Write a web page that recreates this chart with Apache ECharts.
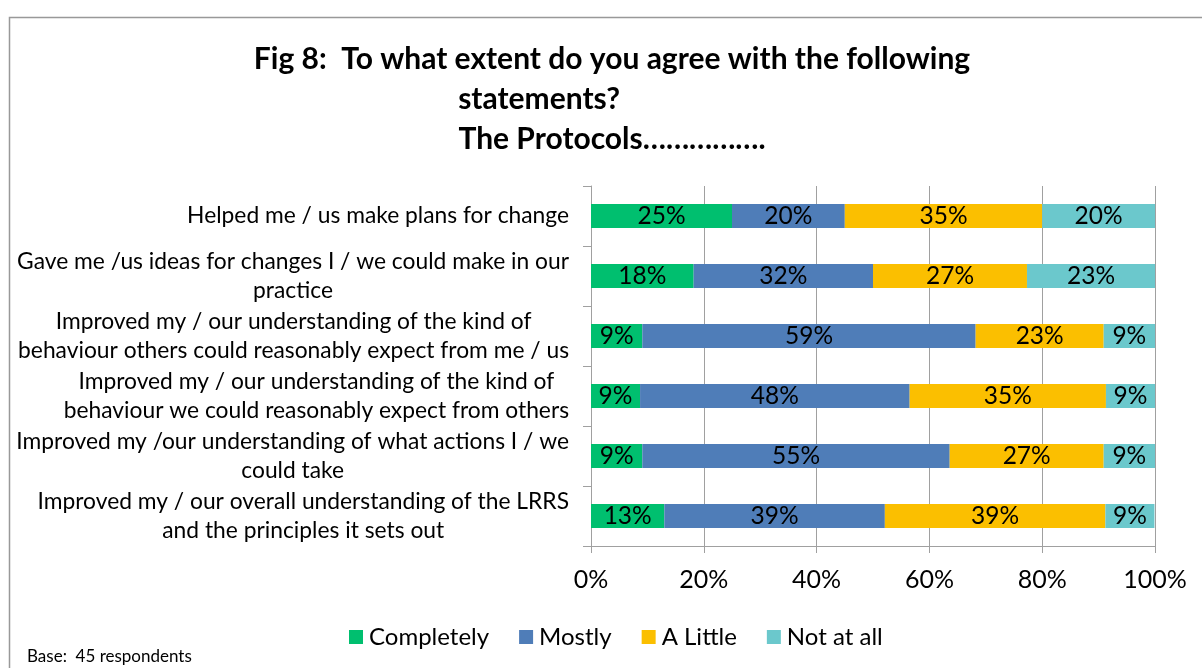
<!DOCTYPE html>
<html>
<head>
<meta charset="utf-8">
<title>Fig 8</title>
<script src="https://cdn.jsdelivr.net/npm/echarts@6/dist/echarts.min.js"></script>
<style>
  html, body { margin: 0; padding: 0; background: #ffffff; }
  #chart { width: 1202px; height: 668px; }
</style>
</head>
<body>
<div id="chart"></div>
<script>
// Statements (top to bottom), wrapped as they appear on the axis
const statements = [
  'Helped me / us make plans for change',
  'Gave me /us ideas for changes I / we could make in our\npractice',
  'Improved my / our understanding of the kind of\nbehaviour others could reasonably expect from me / us',
  'Improved my / our understanding of the kind of\nbehaviour we could reasonably expect from others',
  'Improved my /our understanding of what actions I / we\ncould take',
  'Improved my / our overall understanding of the LRRS\nand the principles it sets out'
];

// Share of respondents (%) per answer, same order as statements
const completely = [25, 18.2, 9.1, 8.7, 9.1, 13.0];
const mostly     = [20, 31.8, 59.1, 47.8, 54.5, 39.1];
const aLittle    = [35, 27.3, 22.7, 34.8, 27.3, 39.1];
const notAtAll   = [20, 22.7, 9.1, 8.7, 9.1, 8.7];

const answerNames = ['Completely', 'Mostly', 'A Little', 'Not at all'];
const answerColors = ['#00BF6F', '#4F7DB8', '#FBBF00', '#6BC8CC'];
const answerValues = [completely, mostly, aLittle, notAtAll];

const xTicks = [0, 20, 40, 60, 80, 100];

const FONT = 'Lato, "Open Sans", sans-serif';
const GRAY = '#a0a0a0';
const CAT_SIZE = 22.8;
const CAT_LINE = 29.5;

const chart = echarts.init(document.getElementById('chart'), null, { renderer: 'canvas' });

const series = answerNames.map((name, i) => ({
  name: name,
  type: 'bar',
  stack: 'total',
  barWidth: 24,
  itemStyle: { color: answerColors[i] },
  label: {
    show: true,
    position: 'inside',
    color: '#000',
    fontFamily: FONT,
    fontSize: 24.5,
    formatter: p => Math.round(p.value) + '%'
  },
  emphasis: { disabled: true },
  data: answerValues[i]
}));

chart.setOption({
  animation: false,
  textStyle: { fontFamily: FONT, color: '#000' },
  title: {
    text: 'Fig 8:  To what extent do you agree with the following\nstatements?' +
          '\u00a0'.repeat(20) + '\nThe Protocols…………….',
    left: 612,
    top: 39,
    textAlign: 'center',
    padding: 0,
    textStyle: {
      fontFamily: FONT,
      fontWeight: 'bold',
      fontSize: 30,
      lineHeight: 40,
      color: '#000'
    }
  },
  legend: {
    data: answerNames,
    left: 349,
    top: 625,
    padding: 0,
    itemWidth: 14,
    itemHeight: 14,
    itemGap: 30,
    icon: 'rect',
    textStyle: { fontFamily: FONT, fontSize: 24, color: '#000', padding: [0, 0, 0, 1] }
  },
  grid: {
    left: 591, right: 47, top: 186, bottom: 122,
    containLabel: false,
    outerBoundsMode: 'none'
  },
  xAxis: {
    type: 'value',
    min: xTicks[0],
    max: xTicks[xTicks.length - 1],
    interval: 20,
    axisLine: { show: true, lineStyle: { color: GRAY, width: 1 } },
    axisTick: { show: true, length: 7, lineStyle: { color: GRAY } },
    splitLine: { show: true, lineStyle: { color: GRAY, width: 1 } },
    axisLabel: {
      margin: 21,
      fontFamily: FONT,
      fontSize: 25,
      color: '#000',
      formatter: '{value}%'
    }
  },
  yAxis: {
    type: 'category',
    inverse: true,
    data: statements,
    axisLine: { show: true, lineStyle: { color: GRAY, width: 1 } },
    axisTick: { show: true, length: 8, lineStyle: { color: GRAY } },
    splitLine: { show: false },
    axisLabel: {
      margin: 22,
      fontFamily: FONT,
      fontSize: CAT_SIZE,
      lineHeight: CAT_LINE,
      color: '#000',
      align: 'right',
      formatter: v => v.split('\n').map(l => '{c|' + l + '}').join('\n'),
      rich: {
        c: { align: 'center', fontFamily: FONT, fontSize: CAT_SIZE, lineHeight: CAT_LINE, color: '#000' }
      }
    }
  },
  graphic: [
    {
      type: 'rect',
      silent: true,
      shape: { x: 9.5, y: 17.5, width: 1400, height: 900 },
      style: { fill: 'none', stroke: '#999999', lineWidth: 1.5 }
    },
    {
      type: 'text',
      left: 27,
      top: 648,
      style: { text: 'Base:  45 respondents', fontFamily: FONT, fontSize: 17, fill: '#000' }
    }
  ],
  series: series
});
</script>
</body>
</html>
